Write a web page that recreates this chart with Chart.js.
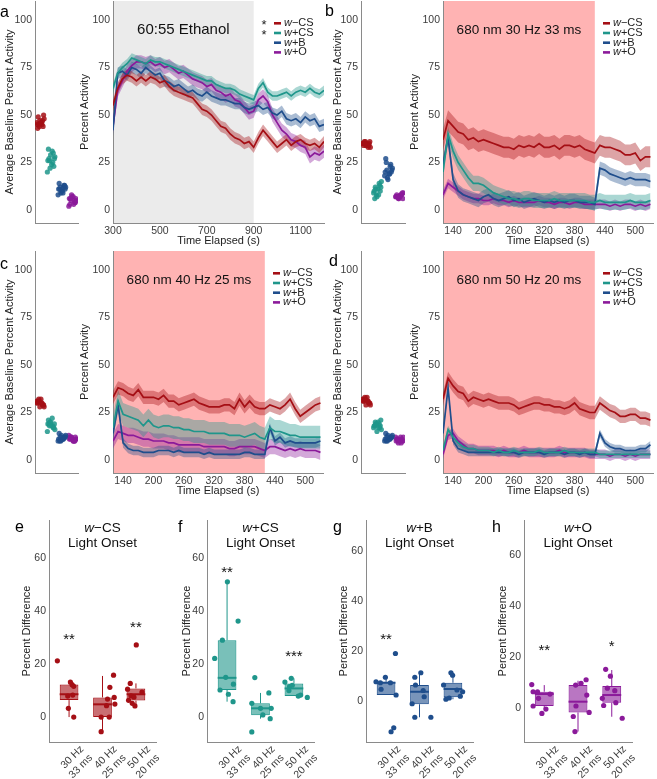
<!DOCTYPE html>
<html>
<head>
<meta charset="utf-8">
<script src="https://cdn.jsdelivr.net/npm/chart.js@4.4.1/dist/chart.umd.min.js"></script>
<style>
  body { margin: 0; width: 657px; height: 779px; position: relative; overflow: hidden; background: #fff; font-family: "Liberation Sans", Arial, sans-serif; }
  canvas { position: absolute; }
  .tag { position: absolute; font-size: 16px; line-height: 16px; color: #000; z-index: 2; }
</style>
</head>
<body>
<div class="tag" style="left:0px;top:4px">a</div>
<div class="tag" style="left:325px;top:3px">b</div>
<div class="tag" style="left:0px;top:256px">c</div>
<div class="tag" style="left:329px;top:253px">d</div>
<div class="tag" style="left:15px;top:519px">e</div>
<div class="tag" style="left:178px;top:519px">f</div>
<div class="tag" style="left:333px;top:519px">g</div>
<div class="tag" style="left:492px;top:519px">h</div>
<script>
// ---- data ----
const groups = ["w\u2212CS", "w+CS", "w+B", "w+O"];
const colors = ["#A50F15", "#1F968B", "#1F4E8C", "#8B1A9A"];

const ethanolTime = [300, 320, 340, 360, 380, 400, 420, 440, 460, 480, 500, 520, 540, 560, 580, 600, 620, 640, 660, 680, 700, 720, 740, 760, 780, 800, 820, 840, 860, 880, 900, 920, 940, 960, 980, 1000, 1020, 1040, 1060, 1080, 1100, 1120, 1140, 1160, 1180, 1200];
const aMinusCS = [55, 64, 69, 71, 70, 68, 70, 68, 70, 69, 67, 68, 65, 63, 62, 61, 60, 59, 56, 53, 52, 50, 47, 44, 43, 40, 38, 37, 35, 36, 33, 38, 42, 39, 36, 33, 35, 37, 34, 36, 37, 35, 34, 35, 33, 36];
const aPlusCS = [64, 72, 75, 77, 80, 79, 78, 77, 79, 78, 78, 77, 76, 75, 74, 73, 72, 71, 70, 69, 68, 68, 66, 65, 64, 64, 63, 61, 60, 59, 58, 64, 67, 62, 60, 60, 61, 62, 60, 62, 63, 62, 64, 62, 61, 63];
const aPlusB = [42, 72, 73, 71, 75, 74, 72, 75, 73, 71, 72, 68, 67, 65, 66, 64, 62, 63, 61, 60, 62, 60, 59, 58, 58, 57, 56, 56, 54, 53, 54, 55, 53, 54, 51, 50, 52, 48, 47, 48, 46, 49, 47, 48, 44, 45];
const aPlusO = [44, 63, 68, 73, 76, 78, 78, 77, 78, 76, 77, 75, 76, 74, 72, 73, 71, 69, 68, 67, 65, 66, 63, 62, 60, 61, 58, 57, 54, 51, 52, 58, 60, 57, 50, 46, 42, 40, 37, 36, 34, 33, 28, 30, 29, 31];
const aSE = [3, 2.5, 3, 3.5];

const lightTime = [120, 130, 140, 150, 160, 170, 180, 190, 200, 210, 220, 230, 240, 250, 260, 270, 280, 290, 300, 310, 320, 330, 340, 350, 360, 370, 380, 390, 400, 410, 420, 430, 440, 450, 460, 470, 480, 490, 500, 510, 520, 530];
const bMinusCS = [37, 47, 44, 41, 40, 37, 38, 36, 37, 36, 35, 34, 33, 33, 32, 34, 33, 34, 33, 35, 33, 33, 34, 32, 34, 34, 33, 34, 32, 31, 30, 34, 33, 33, 32, 31, 29, 29, 30, 26, 28, 28];
const bPlusCS = [20, 40, 31, 25, 21, 17, 14, 14, 13, 11, 9, 8, 7, 6, 6, 5, 6, 6, 5, 5, 5, 5, 6, 5, 5, 5, 5, 5, 5, 4, 4, 5, 4, 4, 4, 4, 4, 5, 4, 4, 4, 5];
const bPlusB = [24, 38, 16, 10, 8, 7, 6, 5, 7, 8, 6, 5, 6, 7, 5, 6, 4, 5, 6, 5, 4, 5, 4, 5, 4, 5, 5, 4, 4, 4, 3, 22, 21, 19, 18, 17, 16, 17, 16, 16, 16, 15];
const bPlusO = [8, 14, 12, 10, 8, 7, 6, 6, 5, 5, 6, 5, 5, 4, 5, 4, 4, 4, 4, 5, 4, 4, 3, 4, 4, 3, 4, 4, 3, 3, 3, 3, 3, 2, 3, 2, 3, 3, 2, 3, 2, 3];
const bSE = [5.5, 4, 3.5, 2.5];

const cMinusCS = [33, 38, 37, 35, 34, 37, 33, 33, 33, 32, 34, 31, 31, 29, 30, 31, 32, 30, 29, 28, 28, 28, 29, 29, 27, 32, 28, 31, 28, 27, 27, 29, 28, 27, 29, 32, 27, 23, 25, 27, 29, 30];
const cPlusCS = [17, 31, 24, 23, 22, 21, 18, 21, 18, 17, 18, 18, 17, 17, 16, 16, 15, 15, 15, 14, 14, 14, 14, 13, 13, 13, 12, 13, 14, 12, 11, 17, 15, 15, 14, 13, 13, 12, 12, 12, 12, 12];
const cPlusB = [14, 29, 9, 6, 5, 5, 4, 4, 4, 5, 5, 5, 4, 5, 4, 4, 4, 4, 3, 4, 3, 3, 3, 3, 3, 3, 4, 4, 3, 3, 3, 17, 10, 12, 9, 10, 9, 9, 9, 9, 9, 10];
const cPlusO = [10, 15, 14, 13, 13, 12, 11, 11, 10, 10, 10, 9, 9, 8, 8, 8, 8, 8, 7, 7, 7, 7, 7, 6, 6, 7, 7, 7, 7, 6, 5, 7, 7, 6, 5, 6, 5, 6, 5, 5, 5, 4];
const cSE = [3.5, 6, 2.5, 4];

const dMinusCS = [32, 43, 39, 36, 35, 31, 33, 32, 31, 32, 31, 30, 30, 30, 29, 27, 28, 29, 30, 30, 29, 29, 28, 28, 27, 28, 30, 27, 26, 25, 25, 30, 28, 26, 25, 23, 23, 24, 24, 22, 22, 21];
const dPlusCS = [5, 16, 12, 9, 7, 6, 6, 5, 5, 5, 4, 5, 4, 4, 5, 4, 4, 4, 4, 5, 4, 4, 4, 4, 5, 4, 4, 4, 4, 4, 4, 3, 3, 3, 3, 3, 3, 3, 3, 3, 3, 3];
const dPlusB = [14, 38, 10, 6, 5, 4, 4, 4, 4, 4, 4, 4, 4, 4, 4, 3, 4, 4, 4, 4, 3, 4, 4, 4, 3, 4, 4, 3, 4, 3, 3, 14, 9, 7, 6, 6, 5, 5, 5, 6, 6, 8];
const dPlusO = [3, 13, 14, 10, 8, 6, 6, 5, 5, 5, 5, 4, 5, 4, 4, 4, 5, 4, 4, 4, 4, 4, 4, 5, 4, 4, 4, 4, 4, 3, 3, 3, 3, 2, 3, 3, 2, 3, 2, 3, 3, 3];
const dSE = [3.5, 2, 2, 2.5];

// per-fly baseline activity, one list per genotype
const aBaseline = [
  [45, 47, 44, 48, 46, 43, 50, 46, 45, 47, 44, 49, 46, 45],
  [26, 30, 22, 28, 24, 32, 27, 20, 25, 29, 23, 27, 31, 26],
  [11, 13, 9, 12, 10, 14, 11, 8, 12, 10, 13, 11, 9, 12],
  [6, 4, 8, 5, 7, 3, 6, 2, 5, 7, 4, 6, 3, 5],
];
const bBaseline = [
  [35, 34, 36, 33, 35, 34, 36, 35, 33, 34, 35, 36, 34, 35],
  [10, 13, 8, 15, 11, 6, 12, 9, 14, 7, 10, 12, 8, 11],
  [20, 24, 17, 22, 19, 27, 21, 18, 23, 16, 20, 25, 19, 21],
  [7, 8, 6, 9, 7, 8, 6, 7, 8, 6, 9, 7, 8, 7],
];
const cBaseline = [
  [30, 29, 31, 28, 32, 30, 29, 31, 30, 28, 29, 31, 30, 32],
  [19, 17, 20, 16, 18, 21, 19, 15, 18, 20, 17, 19, 22, 18],
  [11, 12, 10, 13, 11, 14, 12, 10, 11, 13, 12, 10, 11, 12],
  [11, 10, 12, 11, 10, 12, 11, 13, 10, 11, 12, 11, 10, 12],
];
const dBaseline = [
  [31, 30, 32, 29, 33, 31, 30, 32, 31, 29, 30, 32, 31, 33],
  [18, 17, 19, 16, 20, 18, 21, 17, 19, 15, 18, 20, 17, 19],
  [11, 12, 10, 13, 11, 14, 12, 10, 11, 13, 12, 10, 11, 12],
  [10, 11, 9, 12, 10, 11, 10, 12, 9, 11, 10, 11, 12, 10],
];
const stripJitter = [-0.3, 0.2, -0.1, 0.35, 0.05, -0.25, 0.3, -0.35, 0.15, -0.05, 0.25, -0.2, 0.1, -0.15];

// light onset boxes: [lower whisker, q1, median, q3, upper whisker]
const pulseLabels = [["30 Hz", "33 ms"], ["40 Hz", "25 ms"], ["50 Hz", "20 ms"]];
const eStats = [[0, 6.4, 8.6, 12.3, 13.2], [-5.5, 0, 4.8, 7.4, 15.5], [3.9, 6.2, 8.6, 10.8, 12.7]];
const ePoints = [[21.2, 13.2, 12.2, 11.6, 7.9, 8.3, 3.3, 0], [-5.5, 0, 0, 4.3, 6.8, 11.2, 7.4, 4.9, 15.8], [27.2, 12.7, 10.5, 8, 7.5, 9.4, 5.2, 4.2, 6.3]];
const eJitter = [[-0.35, 0.04, 0.09, 0.14, -0.04, 0.11, -0.02, 0.14], [-0.04, -0.04, 0.2, 0.12, 0.15, 0.22, 0.35, 0.37, 0.33], [0.01, -0.17, -0.25, -0.15, -0.06, 0.18, -0.11, -0.03, -0.22]];
const fStats = [[5.8, 10.2, 14.8, 29, 51], [-0.6, 0.7, 3.3, 5.2, 9.1], [7.9, 7.9, 10.8, 12.7, 14.6]];
const fPoints = [[51, 36.2, 29, 22.1, 15, 12.4, 10.2, 8.6, 5.8], [-5.6, 14.9, 5.2, 3.3, 0.8, 9.1, -0.6, 3.3], [13.2, 14.6, 11.5, 10, 7.9, 8.3, 7.4, 12]];
const fJitter = [[0.01, 0.33, -0.14, -0.37, -0.04, 0.19, -0.21, 0.04, 0.18], [-0.26, -0.17, -0.26, 0, 0.07, 0.25, 0.29, 0.32], [-0.27, -0.08, -0.13, -0.15, 0.13, 0.2, 0.4, -0.05]];
const gStats = [[2.4, 2.4, 7.3, 7.7, 9.5], [-6.5, -1.3, 3.7, 6.4, 11.3], [0.7, 1.5, 4.8, 7.3, 11.3]];
const gPoints = [[19, 7.7, 7.3, 9.5, 7.3, 4.7, 2.4, -10.7, -12.3], [9.5, 11.3, 6.4, 1.7, 4.2, -1.1, -6.5, -6.5], [6.4, 11.3, 10.3, 0.7, 1.2, 3.7, 1.9, 4.4]];
const gJitter = [[0.28, -0.3, -0.17, -0.02, 0.13, -0.15, 0.3, 0.23, 0.15], [-0.14, 0.04, -0.12, 0.14, 0.11, -0.22, -0.14, 0.34], [-0.28, -0.06, -0.01, -0.21, -0.11, 0.29, 0.22, 0.12]];
const hStats = [[-0.5, 0.8, 5.5, 6.4, 9], [-9.2, -1.7, 2.5, 9, 10.7], [-3.4, 2.1, 5.1, 8.6, 14.9]];
const hPoints = [[9.2, 6.4, 6.4, 3.8, 0.8, -0.4, -2.1, 5.5], [-3.3, -9.2, 9, 9.7, 11.1, 0.8, 5.1, -1.7], [15.2, 12.5, 3.8, 1.0, 7.8, 6.8, 2.1, -4]];
const hJitter = [[-0.37, -0.33, -0.2, -0.17, -0.33, 0.05, -0.07, 0.17], [-0.14, -0.09, -0.07, 0.09, 0.24, -0.06, 0.26, 0.33], [-0.18, -0.04, -0.28, -0.24, -0.13, 0.09, 0.12, 0.31]];

// ---- helpers ----
const FONT = '"Liberation Sans", Arial, sans-serif';
const AXIS = "#8a8a8a";
const TICK = "#3c3c3c";
Chart.defaults.font.family = FONT;

function fade(hex, a) {
  const n = parseInt(hex.slice(1), 16);
  return `rgba(${n >> 16},${(n >> 8) & 255},${n & 255},${a})`;
}

function addCanvas(b) {
  const c = document.createElement("canvas");
  c.width = b.right - b.left;
  c.height = b.bottom - b.top;
  c.style.left = b.left + "px";
  c.style.top = b.top + "px";
  document.body.appendChild(c);
  return c;
}

// fixed scale sizes so plot areas line up with the figure grid
const fixAxis = (size, horizontal) => (s) => {
  if (horizontal) s.height = size;
  else s.width = size;
  s.paddingLeft = s.paddingRight = s.paddingTop = s.paddingBottom = 0;
};
const keepTicks = (values) => (s) => {
  s.ticks = values.map((v) => ({ value: v }));
};

function layoutOf(b) {
  return {
    padding: { top: b.plotTop - b.top, right: b.right - b.plotRight, left: 0, bottom: 0 },
    autoPadding: false,
  };
}

function groupName(ctx, name, x, y, size, align) {
  const head = name.slice(0, 1);
  const tail = name.slice(1);
  ctx.font = `italic ${size}px ${FONT}`;
  const w1 = ctx.measureText(head).width;
  ctx.font = `${size}px ${FONT}`;
  const w2 = ctx.measureText(tail).width;
  const x0 = align === "center" ? x - (w1 + w2) / 2 : x;
  ctx.textAlign = "left";
  ctx.font = `italic ${size}px ${FONT}`;
  ctx.fillText(head, x0, y);
  ctx.font = `${size}px ${FONT}`;
  ctx.fillText(tail, x0 + w1, y);
}

function yScale(b, min, max, tickVals, title, size) {
  return {
    min: min,
    max: max,
    afterBuildTicks: keepTicks(tickVals),
    afterFit: fixAxis(b.plotLeft - b.left, false),
    grid: { display: false, drawTicks: false },
    border: { color: AXIS, width: 1 },
    ticks: { font: { size: size }, color: TICK, padding: 3, callback: (v) => String(v) },
    title: { display: true, text: title, font: { size: 11 }, color: "#222", padding: { top: 0, bottom: 0 } },
  };
}

const baseOptions = { responsive: false, animation: false, events: [] };
const noLegend = { legend: { display: false }, tooltip: { enabled: false } };

// time course with ribbons
function timeChart(b, p) {
  const datasets = [];
  p.series.forEach((vals, i) => {
    const pts = (off) => p.time.map((t, k) => ({ x: t, y: vals[k] + off }));
    datasets.push({ data: pts(p.se[i]), borderWidth: 0, pointRadius: 0, fill: "+1", backgroundColor: fade(colors[i], 0.38), order: 2 });
    datasets.push({ data: pts(-p.se[i]), borderWidth: 0, pointRadius: 0, fill: false, order: 2 });
    datasets.push({ label: groups[i], data: pts(0), borderColor: colors[i], borderWidth: 1.7, pointRadius: 0, fill: false, order: 1 });
  });

  const decor = {
    id: "decor",
    beforeDraw(chart) {
      const { ctx, chartArea: a, scales: { x } } = chart;
      const x0 = x.getPixelForValue(p.stim[0]);
      const x1 = x.getPixelForValue(p.stim[1]);
      ctx.save();
      ctx.fillStyle = p.shade;
      ctx.fillRect(x0, a.top, x1 - x0, a.bottom - a.top);
      ctx.restore();
    },
    afterDatasetsDraw(chart) {
      const { ctx, chartArea: a, scales: { x } } = chart;
      const mid = (x.getPixelForValue(p.stim[0]) + x.getPixelForValue(p.stim[1])) / 2;
      ctx.save();
      ctx.fillStyle = "#111";
      ctx.textAlign = "center";
      ctx.textBaseline = "middle";
      ctx.font = `${p.labelSize}px ${FONT}`;
      ctx.fillText(p.label, mid, a.top + 29);
      ctx.textBaseline = "middle";
      groups.forEach((g, i) => {
        const y = a.top + 22.3 + i * 9.7;
        ctx.strokeStyle = colors[i];
        ctx.lineWidth = 2.6;
        ctx.beginPath();
        ctx.moveTo(a.right - 50, y);
        ctx.lineTo(a.right - 43, y);
        ctx.stroke();
        ctx.fillStyle = "#222";
        groupName(ctx, g, a.right - 40, y, 11, "left");
        if (p.stars && p.stars[i]) {
          ctx.font = `13px ${FONT}`;
          ctx.textAlign = "center";
          ctx.textBaseline = "alphabetic";
          ctx.fillText(p.stars[i], a.right - 60, y + 6);
          ctx.textBaseline = "middle";
        }
      });
      ctx.restore();
    },
  };

  new Chart(addCanvas(b), {
    type: "line",
    data: { datasets },
    options: {
      ...baseOptions,
      layout: layoutOf(b),
      plugins: { ...noLegend, filler: { propagate: false } },
      elements: { line: { tension: 0 } },
      scales: {
        x: {
          type: "linear",
          min: p.xMin,
          max: p.xMax,
          afterBuildTicks: keepTicks(p.xTicks),
          afterFit: fixAxis(b.bottom - b.plotBottom, true),
          grid: { display: false, drawTicks: false },
          border: { color: AXIS, width: 1 },
          ticks: { font: { size: 10.5 }, color: TICK, padding: 2, maxRotation: 0, autoSkip: false, callback: (v) => String(v) },
          title: { display: true, text: "Time Elapsed (s)", font: { size: 11 }, color: "#222", padding: { top: 0, bottom: 0 } },
        },
        y: yScale(b, -6.84, 110, [0, 25, 50, 75, 100], "Percent Activity", 10.5),
      },
    },
    plugins: [decor],
  });
}

// baseline strip of individual flies
function baselineChart(b, values) {
  const datasets = values.map((vals, i) => ({
    data: vals.map((v, k) => ({ x: i + 1 + stripJitter[k], y: v })),
    backgroundColor: fade(colors[i], 0.85),
    pointRadius: 2.6,
    borderWidth: 0,
  }));
  new Chart(addCanvas(b), {
    type: "scatter",
    data: { datasets },
    options: {
      ...baseOptions,
      layout: layoutOf(b),
      plugins: noLegend,
      scales: {
        x: {
          type: "linear",
          min: 0.5,
          max: 4.5,
          afterFit: fixAxis(b.bottom - b.plotBottom, true),
          grid: { display: false, drawTicks: false },
          border: { color: AXIS, width: 1 },
          ticks: { display: false },
        },
        y: yScale(b, -6.84, 110, [0, 25, 50, 75, 100], "Average Baseline Percent Activity", 10.5),
      },
    },
  });
}

// light onset box plots
function onsetChart(b, p) {
  const datasets = [
    {
      type: "bar",
      data: p.stats.map((s, i) => ({ x: i, y: [s[1], s[3]] })),
      backgroundColor: fade(p.color, 0.6),
      borderColor: p.color,
      borderWidth: 1,
      borderSkipped: false,
      barPercentage: 1,
      categoryPercentage: 0.56,
      order: 2,
    },
    {
      type: "scatter",
      data: p.points.flatMap((vals, i) => vals.map((v, k) => ({ x: i + p.jitter[i][k], y: v }))),
      backgroundColor: p.color,
      pointRadius: 2.6,
      borderWidth: 0,
      order: 1,
    },
  ];

  const boxParts = {
    id: "boxParts",
    afterDatasetDraw(chart, args) {
      if (args.index !== 0) return;
      const { ctx, scales: { y } } = chart;
      const bars = chart.getDatasetMeta(0).data;
      ctx.save();
      ctx.strokeStyle = p.color;
      p.stats.forEach(([lo, q1, med, q3, hi], i) => {
        const bx = bars[i].x;
        const half = bars[i].width / 2;
        ctx.lineWidth = 1;
        ctx.beginPath();
        ctx.moveTo(bx, y.getPixelForValue(lo));
        ctx.lineTo(bx, y.getPixelForValue(q1));
        ctx.moveTo(bx, y.getPixelForValue(q3));
        ctx.lineTo(bx, y.getPixelForValue(hi));
        ctx.stroke();
        ctx.lineWidth = 2;
        ctx.beginPath();
        ctx.moveTo(bx - half, y.getPixelForValue(med));
        ctx.lineTo(bx + half, y.getPixelForValue(med));
        ctx.stroke();
      });
      ctx.restore();
    },
    afterDatasetsDraw(chart) {
      const { ctx, chartArea: a, scales: { x, y } } = chart;
      const cx = (a.left + a.right) / 2;
      ctx.save();
      ctx.fillStyle = "#111";
      ctx.textBaseline = "middle";
      groupName(ctx, p.title, cx, a.top + 8, 13.5, "center");
      ctx.textAlign = "center";
      ctx.font = `13.5px ${FONT}`;
      ctx.fillText("Light Onset", cx, a.top + 23);
      ctx.font = `15px ${FONT}`;
      ctx.textBaseline = "alphabetic";
      p.stars.forEach(([cat, v, s]) => {
        ctx.fillText(s, x.getPixelForValue(cat), y.getPixelForValue(v) + 8);
      });
      ctx.restore();
    },
  };

  new Chart(addCanvas(b), {
    type: "bar",
    data: { datasets },
    options: {
      ...baseOptions,
      layout: layoutOf(b),
      plugins: noLegend,
      scales: {
        x: {
          type: "linear",
          offset: false,
          min: -0.6,
          max: 2.6,
          afterBuildTicks: keepTicks([0, 1, 2]),
          afterFit: fixAxis(b.bottom - b.plotBottom, true),
          grid: { display: false, drawTicks: false },
          border: { color: AXIS, width: 1 },
          ticks: {
            font: { size: 10.5 },
            color: TICK,
            padding: 1,
            minRotation: 45,
            maxRotation: 45,
            labelOffset: 13,
            autoSkip: false,
            callback: (v) => pulseLabels[v] || "",
          },
        },
        y: yScale(b, p.yMin, p.yMax, [0, 20, 40, 60], "Percent Difference", 10.5),
      },
    },
    plugins: [boxParts],
  });
}

// ---- panels ----
baselineChart({ left: 3, top: 0, right: 80, bottom: 228, plotLeft: 35, plotTop: 1, plotRight: 78, plotBottom: 223 }, aBaseline);
timeChart({ left: 78, top: 0, right: 330, bottom: 248, plotLeft: 113, plotTop: 1, plotRight: 324, plotBottom: 223 }, {
  time: ethanolTime, series: [aMinusCS, aPlusCS, aPlusB, aPlusO], se: aSE,
  xMin: 300, xMax: 1200, xTicks: [300, 500, 700, 900, 1100],
  stim: [300, 900], shade: "#EBEBEB", label: "60:55 Ethanol", labelSize: 15, stars: ["*", "*"],
});

baselineChart({ left: 331, top: 0, right: 408, bottom: 228, plotLeft: 361, plotTop: 1, plotRight: 405, plotBottom: 223 }, bBaseline);
timeChart({ left: 408, top: 0, right: 657, bottom: 248, plotLeft: 443, plotTop: 1, plotRight: 653, plotBottom: 223 }, {
  time: lightTime, series: [bMinusCS, bPlusCS, bPlusB, bPlusO], se: bSE,
  xMin: 120, xMax: 535, xTicks: [140, 200, 260, 320, 380, 440, 500],
  stim: [120, 420], shade: "#FFB3B3", label: "680 nm 30 Hz 33 ms", labelSize: 13.5,
});

baselineChart({ left: 3, top: 250, right: 80, bottom: 478, plotLeft: 35, plotTop: 251, plotRight: 78, plotBottom: 473 }, cBaseline);
timeChart({ left: 78, top: 250, right: 330, bottom: 498, plotLeft: 113, plotTop: 251, plotRight: 323, plotBottom: 473 }, {
  time: lightTime, series: [cMinusCS, cPlusCS, cPlusB, cPlusO], se: cSE,
  xMin: 120, xMax: 535, xTicks: [140, 200, 260, 320, 380, 440, 500],
  stim: [120, 420], shade: "#FFB3B3", label: "680 nm 40 Hz 25 ms", labelSize: 13.5,
});

baselineChart({ left: 331, top: 250, right: 408, bottom: 478, plotLeft: 361, plotTop: 251, plotRight: 405, plotBottom: 473 }, dBaseline);
timeChart({ left: 408, top: 250, right: 657, bottom: 498, plotLeft: 443, plotTop: 251, plotRight: 653, plotBottom: 473 }, {
  time: lightTime, series: [dMinusCS, dPlusCS, dPlusB, dPlusO], se: dSE,
  xMin: 120, xMax: 535, xTicks: [140, 200, 260, 320, 380, 440, 500],
  stim: [120, 420], shade: "#FFB3B3", label: "680 nm 50 Hz 20 ms", labelSize: 13.5,
});

onsetChart({ left: 20, top: 515, right: 160, bottom: 779, plotLeft: 49, plotTop: 520, plotRight: 156, plotBottom: 742 }, {
  stats: eStats, points: ePoints, jitter: eJitter, color: colors[0], title: groups[0],
  yMin: -9.4, yMax: 74.3, stars: [[0, 30.6, "**"], [2, 35, "**"]],
});
onsetChart({ left: 180, top: 515, right: 318, bottom: 779, plotLeft: 207, plotTop: 520, plotRight: 314, plotBottom: 742 }, {
  stats: fStats, points: fPoints, jitter: fJitter, color: colors[1], title: groups[1],
  yMin: -9.4, yMax: 74.3, stars: [[0, 56, "**"], [2, 24, "***"]],
});
onsetChart({ left: 337, top: 515, right: 477, bottom: 779, plotLeft: 366, plotTop: 520, plotRight: 473, plotBottom: 742 }, {
  stats: gStats, points: gPoints, jitter: gJitter, color: colors[2], title: groups[2],
  yMin: -16.4, yMax: 72.4, stars: [[0, 26, "**"]],
});
onsetChart({ left: 496, top: 515, right: 636, bottom: 779, plotLeft: 524, plotTop: 520, plotRight: 632, plotBottom: 742 }, {
  stats: hStats, points: hPoints, jitter: hJitter, color: colors[3], title: groups[3],
  yMin: -13.3, yMax: 73.7, stars: [[0, 24, "**"], [2, 25.5, "*"]],
});
</script>
</body>
</html>
